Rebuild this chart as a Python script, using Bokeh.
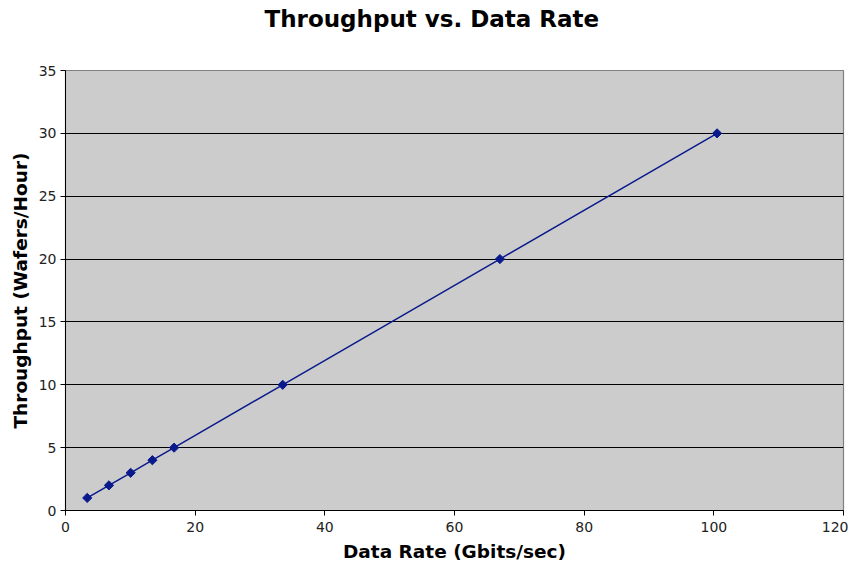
import math
from bokeh.plotting import figure
from bokeh.models import Range1d, FixedTicker, ColumnDataSource, LinearAxis
from bokeh.embed import file_html
from bokeh.resources import INLINE

data_rate = [3.35, 6.7, 10.05, 13.4, 16.75, 33.5, 67.0, 100.5]
throughput = [1, 2, 3, 4, 5, 10, 20, 30]
x_ticks = [0, 20, 40, 60, 80, 100, 120]
y_ticks = [0, 5, 10, 15, 20, 25, 30, 35]
title_text = "Throughput vs. Data Rate"

src = ColumnDataSource(dict(x=data_rate, y=throughput))

p = figure(width=848, height=565, output_backend="svg", toolbar_location=None,
           x_range=Range1d(0, 120), y_range=Range1d(0, 35),
           min_border_left=65, min_border_right=5, min_border_top=70, min_border_bottom=55)

xax = p.below[0]
yax = p.left[0]

p.title.text = title_text
p.title.text_font = "DejaVu Sans"
p.title.text_font_size = "23px"
p.title.text_font_style = "bold"
p.title.text_color = "black"
p.title.align = "left"
p.title.offset = 199
p.title.standoff = 0

p.background_fill_color = "#cccccc"
p.border_fill_color = "white"
p.outline_line_color = "#808080"
p.outline_line_width = 1.2

p.xgrid.grid_line_color = None
p.ygrid.grid_line_color = "black"
p.ygrid.grid_line_width = 1
p.ygrid.ticker = FixedTicker(ticks=y_ticks)

for ax, ticks in ((xax, x_ticks), (yax, y_ticks)):
    ax.ticker = FixedTicker(ticks=ticks)
    ax.axis_line_color = "black"
    ax.axis_line_width = 1
    ax.major_tick_line_color = "black"
    ax.major_tick_out = 5
    ax.major_tick_in = 0
    ax.minor_tick_line_color = None
    ax.major_label_text_font = "DejaVu Sans"
    ax.major_label_text_font_size = "14px"
    ax.major_label_text_color = "#222222"
    ax.axis_label_text_font = "DejaVu Sans"
    ax.axis_label_text_font_size = "18.5px"
    ax.axis_label_text_font_style = "bold"
    ax.axis_label_text_color = "black"

xax.axis_label = "Data Rate (Gbits/sec)"
yax.axis_label = "Throughput (Wafers/Hour)"
xax.major_label_standoff = 6
yax.major_label_standoff = 4
xax.axis_label_standoff = 6
yax.axis_label_standoff = 5

# invisible spacer between the title and the plot area
spacer = LinearAxis(ticker=FixedTicker(ticks=[60]), major_label_overrides={60: ""},
                    axis_line_color=None, major_tick_line_color=None,
                    minor_tick_line_color=None, major_tick_out=39, major_tick_in=0,
                    minor_tick_out=0, major_label_standoff=0,
                    major_label_text_font_size="1px")
p.add_layout(spacer, "above")

p.line("x", "y", source=src, line_color="#0a1a8c", line_width=1.5)
p.scatter("x", "y", source=src, marker="square", size=6.5, angle=math.pi / 4,
          fill_color="#0a1a8c", line_color="#0a1a8c")

open("out.html", "w").write(file_html(p, INLINE))
